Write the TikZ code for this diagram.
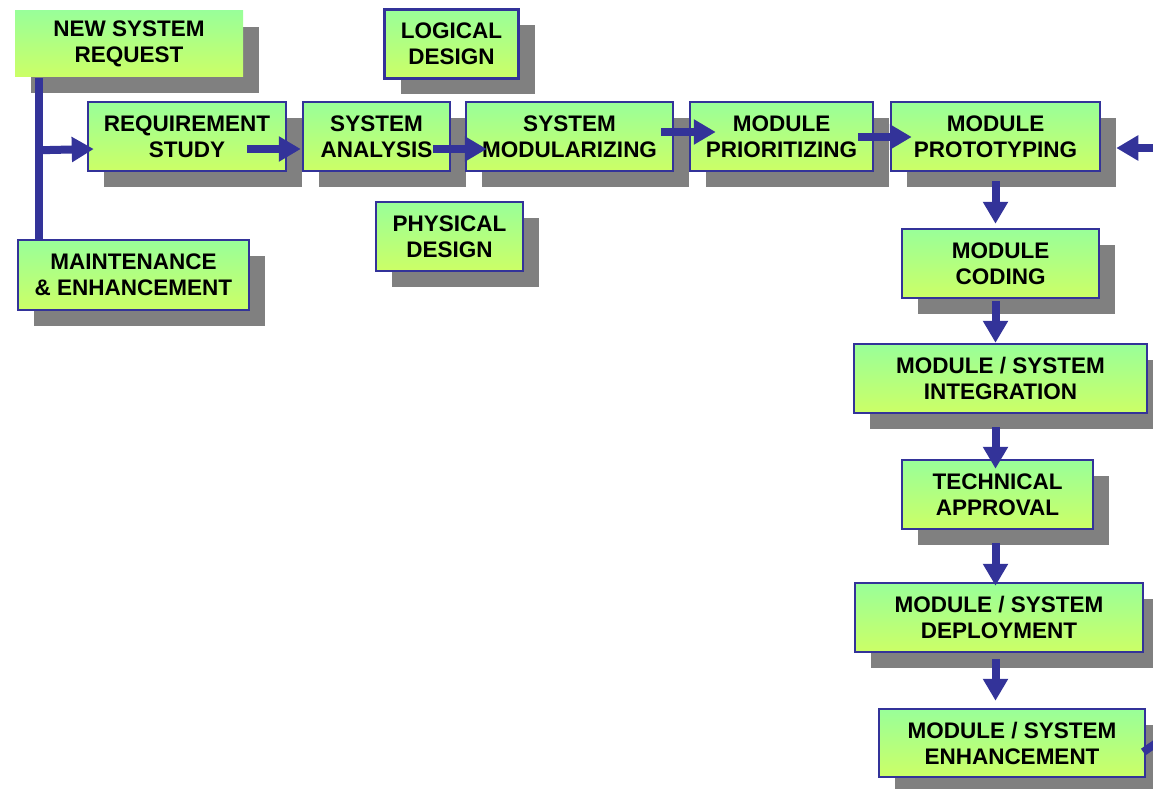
\documentclass[tikz,border=0pt]{standalone}
\usepackage{fontspec}
\setmainfont{Liberation Sans}
\usetikzlibrary{arrows.meta,shadows,calc}
\definecolor{topgreen}{RGB}{153,255,153}
\definecolor{botgreen}{RGB}{204,255,102}
\definecolor{edgeblue}{RGB}{51,51,153}
\definecolor{shadowgray}{RGB}{128,128,128}
\tikzset{
  box/.style={rectangle, top color=topgreen, bottom color=botgreen, draw=edgeblue, line width=2.5pt,
    inner sep=0pt, align=center, font=\fontsize{22.5}{26}\selectfont\bfseries,
    drop shadow={shadow xshift=16pt, shadow yshift=-16pt, opacity=1, fill=shadowgray}},
  plainbox/.style={box, draw=none},
  flow/.style={draw=edgeblue, line width=8pt, -{Triangle[width=24pt,length=22pt]}},
  trunk/.style={draw=edgeblue, line width=8pt}
}
\begin{document}
\begin{tikzpicture}[x=1pt,y=-1pt]
\clip (0,0) rectangle (1153,789);
\fill[white] (0,0) rectangle (1153,789);
% nodes
\node[plainbox, minimum width=228pt, minimum height=66pt] (nsr) at (129,44) {NEW SYSTEM\\REQUEST};
\node[box, minimum width=134pt, minimum height=69pt] (ld) at (451.5,44) {LOGICAL\\DESIGN};
\node[box, minimum width=147pt, minimum height=69pt] (pd) at (449.5,236.5) {PHYSICAL\\DESIGN};
\node[box, minimum width=231pt, minimum height=70pt] (me) at (133.5,275) {MAINTENANCE\\\& ENHANCEMENT};
\node[box, minimum width=198pt, minimum height=69pt] (rs) at (187,136.5) {REQUIREMENT\\STUDY};
\node[box, minimum width=147pt, minimum height=69pt] (sa) at (376.5,136.5) {SYSTEM\\ANALYSIS};
\node[box, minimum width=207pt, minimum height=69pt] (sm) at (569.5,136.5) {SYSTEM\\MODULARIZING};
\node[box, minimum width=183pt, minimum height=69pt] (mp) at (781.5,136.5) {MODULE\\PRIORITIZING};
\node[box, minimum width=209pt, minimum height=69pt] (mpt) at (995.5,136.5) {MODULE\\PROTOTYPING};
\node[box, minimum width=197pt, minimum height=69pt] (mc) at (1000.5,263.5) {MODULE\\CODING};
\node[box, minimum width=293pt, minimum height=69pt] (msi) at (1000.5,378.5) {MODULE / SYSTEM\\INTEGRATION};
\node[box, minimum width=191pt, minimum height=69pt] (ta) at (997.5,494.5) {TECHNICAL\\APPROVAL};
\node[box, minimum width=288pt, minimum height=69pt] (msd) at (999,617.5) {MODULE / SYSTEM\\DEPLOYMENT};
\node[box, minimum width=266pt, minimum height=68pt] (mse) at (1012,743) {MODULE / SYSTEM\\ENHANCEMENT};
% free ends
\coordinate (j) at ($(nsr.south)+(-90,72)$);
\coordinate (rin) at (1165,148);
\coordinate (mout) at (1168,735);
% connectors
\draw[trunk] ($(nsr.south)+(-90,0)$) -- ($(me.north)+(-94.5,0)$);
\draw[flow] (j) -- ($(rs.west)+(7,12.5)$);
\draw[flow] ($(rs.east)+(-40,12.5)$) -- ($(sa.west)+(-1,12.5)$);
\draw[flow] ($(sa.east)+(-18,12.5)$) -- ($(sm.west)+(22,12.5)$);
\draw[flow] ($(sm.east)+(-13,-4.5)$) -- ($(mp.west)+(27,-4.5)$);
\draw[flow] ($(mp.east)+(-16,0.5)$) -- ($(mpt.west)+(22,0.5)$);
\draw[flow] (rin) -- ($(mpt.east)+(15,11.5)$);
\draw[flow] ($(mpt.south)+(0,9)$) -- ($(mpt.south |- mc.north)+(0,-4)$);
\draw[flow] ($(mpt.south |- mc.south)+(0,2)$) -- ($(mpt.south |- msi.north)+(0,0)$);
\draw[flow] ($(mpt.south |- msi.south)+(0,13)$) -- ($(mpt.south |- ta.north)+(0,10)$);
\draw[flow] ($(mpt.south |- ta.south)+(0,13)$) -- ($(mpt.south |- msd.north)+(0,4)$);
\draw[flow] ($(mpt.south |- msd.south)+(0,6)$) -- ($(mpt.south |- mse.north)+(0,-7)$);
\draw[trunk] ($(mse.east)+(-3,9)$) -- (mout);
\end{tikzpicture}
\end{document}
